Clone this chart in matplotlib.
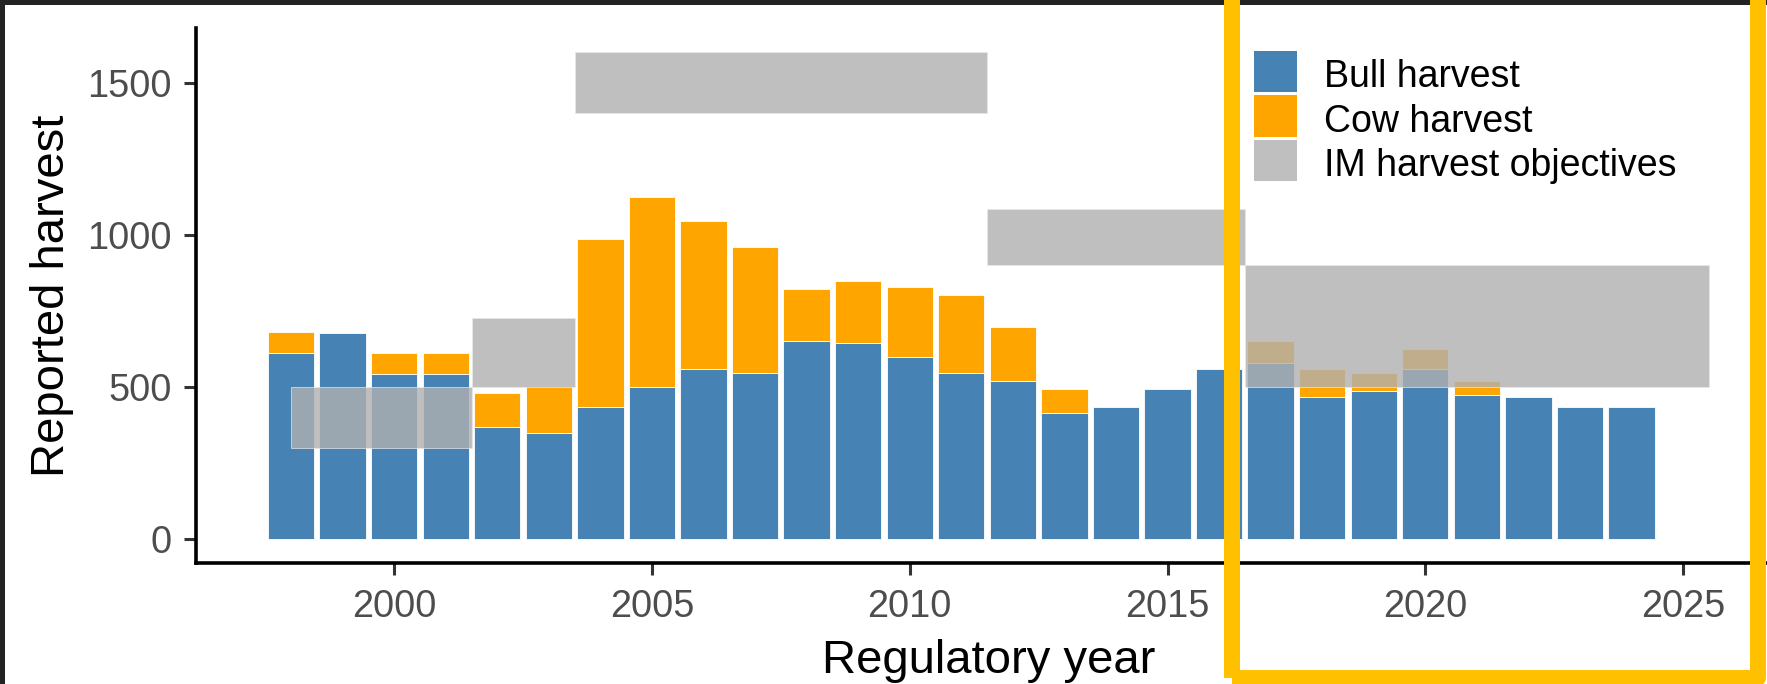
import numpy as np
import matplotlib
matplotlib.use("Agg")
import matplotlib.pyplot as plt
from matplotlib.patches import Rectangle

plt.rcParams['font.family'] = ['Liberation Sans', 'DejaVu Sans']

# ---- data ----
years = [1998, 1999, 2000, 2001, 2002, 2003, 2004, 2005, 2006, 2007, 2008, 2009, 2010,
         2011, 2012, 2013, 2014, 2015, 2016, 2017, 2018, 2019, 2020, 2021, 2022, 2023, 2024]
bull = [610, 676, 544, 544, 368, 348, 434, 500, 558, 546, 650, 645, 598,
        546, 519, 414, 434, 492, 558, 577, 467, 486, 558, 472, 466, 433, 433]
cow = [72, 0, 66, 66, 111, 155, 552, 625, 487, 414, 171, 203, 230,
       255, 177, 78, 0, 0, 0, 73, 91, 59, 66, 46, 0, 0, 0]

obj_start = [1998.0, 2001.5, 2003.5, 2011.5, 2016.5]
obj_end = [2001.5, 2003.5, 2011.5, 2016.5, 2025.5]
obj_low = [300, 500, 1400, 900, 500]
obj_high = [500, 725, 1600, 1085, 900]

x_ticks = [2000, 2005, 2010, 2015, 2020, 2025]
y_ticks = [0, 500, 1000, 1500]
legend_labels = ["Bull harvest", "Cow harvest", "IM harvest objectives"]

BLUE = '#4682B4'
ORANGE = '#FFA500'
GREY = '#B0B0B0'
legend_colors = [BLUE, ORANGE, GREY]
legend_alpha = [1.0, 1.0, 0.8]

W, H = 1767, 684
fig = plt.figure(figsize=(W / 100, H / 100), dpi=100)
fig.patch.set_facecolor('white')

ax = fig.add_axes([195.7 / W, 1 - 563.3 / H, (1781 - 195.7) / W, (563.3 - 28) / H])
ax.set_facecolor('white')

yrs = np.array(years)
b = np.array(bull)
c = np.array(cow)
ax.bar(yrs, b, width=0.9, color=BLUE, edgecolor='white', linewidth=0.6, zorder=2)
m = c > 0
ax.bar(yrs[m], c[m], bottom=b[m], width=0.9, color=ORANGE, edgecolor='white',
       linewidth=0.6, zorder=2)

s = np.array(obj_start); e = np.array(obj_end)
lo = np.array(obj_low); hi = np.array(obj_high)
ax.bar(s, hi - lo, bottom=lo, width=e - s, align='edge', color=GREY, alpha=0.8,
       edgecolor='#e8e8e8', linewidth=0.6, zorder=3)

ax.set_xlim(1996.15, 2026.9)
ax.set_ylim(-80, 1680)
ax.set_xticks(x_ticks)
ax.set_yticks(y_ticks)
ax.set_xticklabels([str(t) for t in x_ticks])
ax.set_yticklabels([str(t) for t in y_ticks])

for sp in ['top', 'right']:
    ax.spines[sp].set_visible(False)
for sp in ['left', 'bottom']:
    ax.spines[sp].set_linewidth(2.6)
    ax.spines[sp].set_color('black')
    ax.spines[sp].set_capstyle('projecting')

ax.tick_params(axis='both', which='major', length=8.6, width=2.2, color='#333333',
               labelsize=27.3, labelcolor='#4D4D4D')
ax.tick_params(axis='x', pad=10)
ax.tick_params(axis='y', pad=8.6)

ax.set_xlabel("Regulatory year", fontsize=34, color='black')
ax.set_ylabel("Reported harvest", fontsize=34, color='black')
ax.xaxis.set_label_coords(0.5, -(639 - 563.3) / (563.3 - 28))
ax.yaxis.set_label_coords((74 - 195.7) / (1781 - 195.7), 0.5)

# ---- legend (drawn in figure pixel layout) ----
key_left, key_w, key_h, key_top0, pitch = 1254, 43, 41, 51, 44.5
text_left = 1324
for i, (lab, col, al) in enumerate(zip(legend_labels, legend_colors, legend_alpha)):
    top = key_top0 + i * pitch
    fig.patches.append(Rectangle((key_left / W, 1 - (top + key_h) / H), key_w / W, key_h / H,
                                 transform=fig.transFigure, facecolor=col, alpha=al,
                                 edgecolor='none', zorder=5))
    baseline = top + key_h / 2 + 15.7
    fig.text(text_left / W, 1 - baseline / H, lab, fontsize=27, color='black',
             ha='left', va='baseline')

# dark screenshot frame
fig.patches.append(Rectangle((0, 1 - 5 / H), 1, 5 / H, transform=fig.transFigure,
                             facecolor='#232323', edgecolor='none', zorder=10))
fig.patches.append(Rectangle((0, 0), 5 / W, 1, transform=fig.transFigure,
                             facecolor='#232323', edgecolor='none', zorder=10))
# yellow highlight box
lw_px = 16
fig.patches.append(Rectangle((1232 / W, 1 - 677.5 / H), (1757.5 - 1232) / W,
                             (677.5 + 30) / H, transform=fig.transFigure,
                             facecolor='none', edgecolor='#FFC000',
                             linewidth=lw_px * 0.72, joinstyle='round', zorder=11))

fig.savefig("out.png", dpi=100, facecolor='white')
